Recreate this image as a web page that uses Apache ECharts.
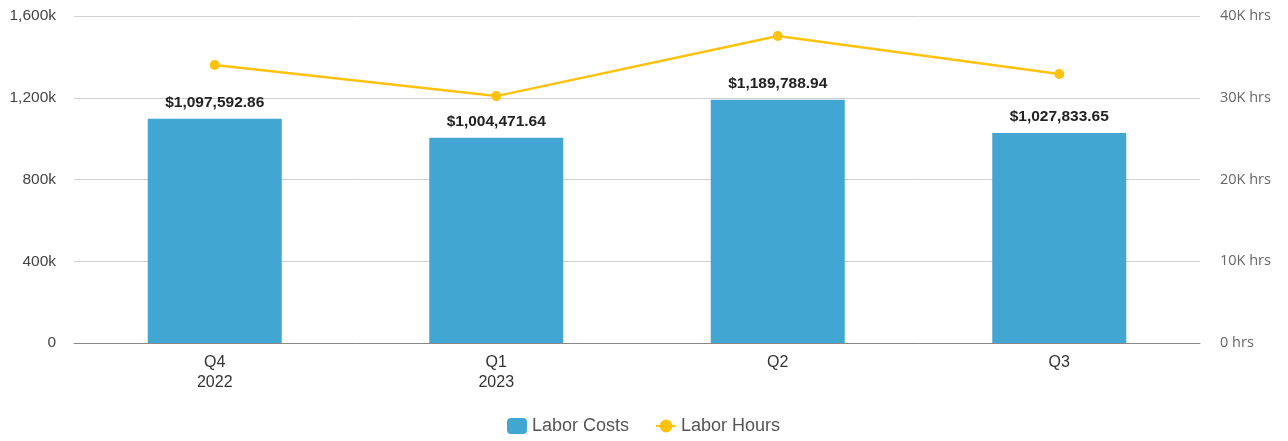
<!DOCTYPE html>
<html>
<head>
<meta charset="utf-8">
<script src="https://cdn.jsdelivr.net/npm/echarts@6/dist/echarts.min.js"></script>
<style>
  html, body { margin: 0; padding: 0; background: #fff; }
  #chart { width: 1288px; height: 441px; }
</style>
</head>
<body>
<div id="chart"></div>
<script>
// Quarterly labor figures
const quarters = ['Q4\n2022', 'Q1\n2023', 'Q2', 'Q3'];
const laborCosts = [1097592.86, 1004471.64, 1189788.94, 1027833.65];
const laborHours = [34000, 30200, 37550, 32900];
const costTicks = [0, 400000, 800000, 1200000, 1600000];
const hourTicks = [0, 10000, 20000, 30000, 40000];

const fmtMoney = v => '$' + v.toLocaleString('en-US', { minimumFractionDigits: 2, maximumFractionDigits: 2 });

const chart = echarts.init(document.getElementById('chart'), null, { renderer: 'canvas' });
chart.setOption({
  animation: false,
  grid: { left: 74, right: 88, top: 16, bottom: 98, containLabel: false },
  legend: {
    bottom: 1,
    left: 502,
    itemGap: 26,
    itemWidth: 20,
    itemHeight: 16,
    textStyle: { fontFamily: 'Liberation Sans, Arial, sans-serif', fontSize: 18, color: '#555' },
    data: [
      { name: 'Labor Costs', icon: 'roundRect' },
      { name: 'Labor Hours' }
    ]
  },
  xAxis: {
    type: 'category',
    data: quarters,
    axisLine: { lineStyle: { color: '#888', width: 1 } },
    axisTick: { show: false },
    axisLabel: { color: '#333', fontFamily: 'Liberation Sans, Arial, sans-serif', fontSize: 16, lineHeight: 20, margin: 10 }
  },
  yAxis: [
    {
      type: 'value',
      min: costTicks[0],
      max: costTicks[costTicks.length - 1],
      interval: costTicks[1] - costTicks[0],
      axisLine: { show: false },
      axisTick: { show: false },
      splitLine: { lineStyle: { color: '#d0d0d0', width: 1 } },
      axisLabel: {
        color: '#444', fontFamily: 'Liberation Sans, Arial, sans-serif', fontSize: 15.5, margin: 18,
        formatter: v => v === 0 ? '0' : (v / 1000).toLocaleString('en-US') + 'k'
      }
    },
    {
      type: 'value',
      min: hourTicks[0],
      max: hourTicks[hourTicks.length - 1],
      interval: hourTicks[1] - hourTicks[0],
      axisLine: { show: false },
      axisTick: { show: false },
      splitLine: { show: false },
      axisLabel: {
        color: '#666', fontFamily: 'Open Sans, sans-serif', fontSize: 14.5, margin: 20,
        formatter: v => v === 0 ? '0 hrs' : (v / 1000) + 'K hrs'
      }
    }
  ],
  series: [
    {
      name: 'Labor Costs',
      type: 'bar',
      data: laborCosts,
      barWidth: '47.6%',
      itemStyle: { color: '#42A6D2' },
      label: {
        show: true,
        position: 'top',
        distance: 8,
        formatter: p => fmtMoney(p.value),
        color: '#222',
        fontWeight: 'bold',
        fontSize: 15.5,
        fontFamily: 'Liberation Sans, Arial, sans-serif'
      }
    },
    {
      name: 'Labor Hours',
      type: 'line',
      yAxisIndex: 1,
      data: laborHours,
      symbol: 'circle',
      symbolSize: 10,
      lineStyle: { color: '#FFC20E', width: 2.5 },
      itemStyle: { color: '#FFC20E' }
    }
  ]
});
</script>
</body>
</html>
